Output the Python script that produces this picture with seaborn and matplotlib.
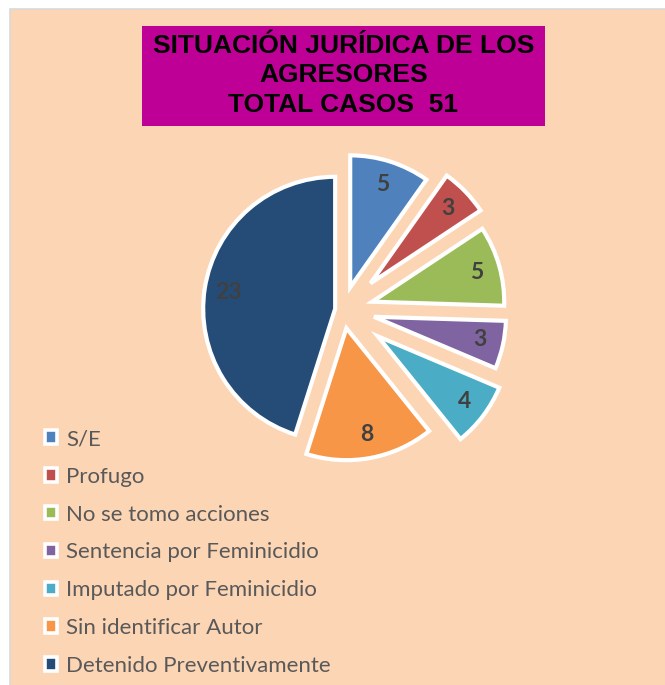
import matplotlib
matplotlib.use('Agg')
import matplotlib.pyplot as plt
import seaborn as sns
from matplotlib.patches import Rectangle, Patch

sns.set_theme(style='white')
plt.rcParams['font.family'] = ['Lato', 'DejaVu Sans']

# ---- data ----
categories = ['S/E', 'Profugo', 'No se tomo acciones', 'Sentencia por Feminicidio',
              'Imputado por Feminicidio', 'Sin identificar Autor', 'Detenido Preventivamente']
values = [5, 3, 5, 3, 4, 8, 23]
title_lines = ['SITUACIÓN JURÍDICA DE LOS', 'AGRESORES', 'TOTAL CASOS  51']

# ---- styles ----
colors = ['#4F81BD', '#C0504D', '#9BBB59', '#8064A2', '#4BACC6', '#F79646', '#254C77']
explode = [0.18, 0.29, 0.23, 0.24, 0.33, 0.14, 0.06]

W, H = 665, 685
fig = plt.figure(figsize=(W / 100, H / 100), dpi=100)
fig.patch.set_facecolor('white')

def fx(px):
    return px / W

def fy(py):
    return 1 - py / H

# chart area background
fig.add_artist(Rectangle((fx(10), fy(H + 20)), fx(W + 20) - fx(10), fy(9) - fy(H + 20),
                         transform=fig.transFigure, facecolor='#FCD5B5',
                         edgecolor='#D9D9D9', lw=1.2, zorder=0))

# title box
fig.add_artist(Rectangle((fx(142), fy(126)), fx(545) - fx(142), fy(26) - fy(126),
                         transform=fig.transFigure, facecolor='#BE0096',
                         edgecolor='none', zorder=1))
for line, ypx in zip(title_lines, [46, 75, 105]):
    fig.text(fx(343.5), fy(ypx), line, ha='center', va='center',
             fontsize=19, fontweight='bold', color='black',
             family=['Liberation Sans', 'DejaVu Sans'], zorder=2)

# pie
R = 132.0
cx, cy = 343.0, 310.0
ax = fig.add_axes([0, 0, 1, 1])
ax.set_facecolor('none')
total = sum(values)
wedges, texts, autotexts = ax.pie(
    values, colors=colors, explode=explode, startangle=90, counterclock=False,
    radius=1.0, center=(0, 0),
    autopct=lambda p: f'{round(p * total / 100):d}', pctdistance=0.82,
    wedgeprops=dict(edgecolor='white', linewidth=3),
    textprops=dict(fontsize=16.5, fontweight='bold', color='#404040'))
ax.set_xlim(-cx / R, (W - cx) / R)
ax.set_ylim(-(H - cy) / R, cy / R)
ax.set_aspect('equal')
ax.axis('off')

# legend
handles = [Patch(facecolor=c, edgecolor='white', linewidth=2.6) for c in colors]
leg = fig.legend(handles, categories, loc='upper left',
                 bbox_to_anchor=(fx(45), fy(429)), frameon=False,
                 fontsize=16, labelcolor='#595959',
                 handlelength=0.55, handleheight=0.55, handletextpad=0.4,
                 labelspacing=0.8, borderaxespad=0, borderpad=0)

fig.savefig('out.png', dpi=100, facecolor=fig.get_facecolor())
